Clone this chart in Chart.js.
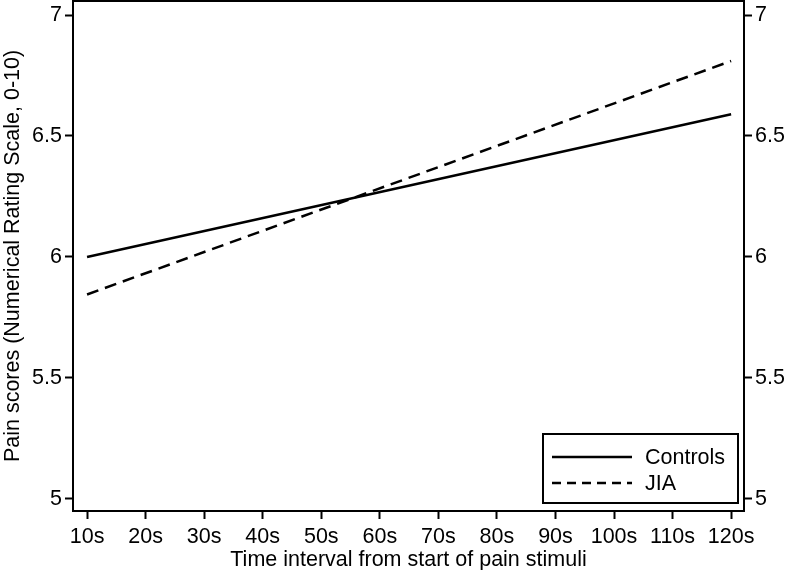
<!DOCTYPE html>
<html>
<head>
<meta charset="utf-8">
<script src="https://cdn.jsdelivr.net/npm/chart.js@4/dist/chart.umd.min.js"></script>
<style>
  body { margin: 0; background: #fff; }
  #wrap { width: 787px; height: 570px; }
</style>
</head>
<body>
<div id="wrap"><canvas id="chart"></canvas></div>
<script>
// time points (seconds) and fitted pain scores
const timePoints = [10, 120];
const controls = [6.0, 6.59];
const jia = [5.845, 6.81];
const xTicks = [10, 20, 30, 40, 50, 60, 70, 80, 90, 100, 110, 120];
const yTicks = [5, 5.5, 6, 6.5, 7];

const font = { family: "'Liberation Sans', Arial, Helvetica, sans-serif", size: 21.5 };

// full box around plot area
const frame = {
    id: 'frame',
    afterDraw(chart) {
        const { ctx, chartArea: a } = chart;
        ctx.save();
        ctx.strokeStyle = '#000';
        ctx.lineWidth = 2;
        ctx.strokeRect(a.left, a.top, a.right - a.left, a.bottom - a.top);
        ctx.restore();
    }
};

// legend box in lower right of plot
const boxLegend = {
    id: 'boxLegend',
    afterDraw(chart) {
        const { ctx } = chart;
        const x0 = 543, y0 = 434, w = 195, h = 69;
        ctx.save();
        ctx.fillStyle = '#fff';
        ctx.fillRect(x0, y0, w, h);
        ctx.strokeStyle = '#000';
        ctx.lineWidth = 2;
        ctx.strokeRect(x0, y0, w, h);
        chart.data.datasets.forEach((ds, i) => {
            const y = y0 + 23 + i * 26;
            ctx.beginPath();
            ctx.lineWidth = 2.5;
            ctx.setLineDash(ds.borderDash ? [9, 6] : []);
            ctx.moveTo(x0 + 9, y);
            ctx.lineTo(x0 + 89, y);
            ctx.stroke();
            ctx.setLineDash([]);
            ctx.fillStyle = '#000';
            ctx.font = `${font.size}px ${font.family}`;
            ctx.textBaseline = 'middle';
            ctx.fillText(ds.label, x0 + 102, y + 1);
        });
        ctx.restore();
    }
};

const fixTicks = vals => scale => { scale.ticks = vals.map(v => ({ value: v })); };

new Chart(document.getElementById('chart'), {
    type: 'line',
    data: {
        datasets: [
            {
                label: 'Controls',
                data: timePoints.map((t, i) => ({ x: t, y: controls[i] })),
                borderColor: '#000',
                borderWidth: 2.5,
                pointRadius: 0,
                yAxisID: 'y'
            },
            {
                label: 'JIA',
                data: timePoints.map((t, i) => ({ x: t, y: jia[i] })),
                borderColor: '#000',
                borderWidth: 2.5,
                borderDash: [12, 7],
                pointRadius: 0,
                yAxisID: 'y'
            }
        ]
    },
    options: {
        responsive: true,
        maintainAspectRatio: false,
        animation: false,
        layout: { padding: { top: 1 } },
        plugins: { legend: { display: false }, tooltip: { enabled: false } },
        scales: {
            x: {
                type: 'linear',
                min: 7.6,
                max: 122.2,
                afterBuildTicks: fixTicks(xTicks),
                afterFit(s) { s.height = 59; s.paddingLeft = 0; s.paddingRight = 0; },
                grid: { drawOnChartArea: false, tickLength: 8, tickWidth: 2, color: '#000' },
                border: { display: false },
                ticks: { color: '#000', font, padding: 5, maxRotation: 0, autoSkip: false,
                         callback: v => v + 's' },
                title: { display: true, text: 'Time interval from start of pain stimuli',
                         color: '#000', font, padding: { top: 0, bottom: -3 } }
            },
            y: {
                position: 'left',
                min: 4.95,
                max: 7.058,
                afterBuildTicks: fixTicks(yTicks),
                afterFit(s) { s.width = 73; s.paddingTop = 0; s.paddingBottom = 0; },
                grid: { drawOnChartArea: false, tickLength: 8, tickWidth: 2, color: '#000' },
                border: { display: false },
                ticks: { color: '#000', font, padding: 3, callback: v => String(v) },
                title: { display: true, text: 'Pain scores (Numerical Rating Scale, 0-10)',
                         color: '#000', font, padding: { top: 0, bottom: 0 } }
            },
            y2: {
                position: 'right',
                min: 4.95,
                max: 7.058,
                afterBuildTicks: fixTicks(yTicks),
                afterFit(s) { s.width = 43; s.paddingTop = 0; s.paddingBottom = 0; },
                grid: { drawOnChartArea: false, tickLength: 8, tickWidth: 2, color: '#000' },
                border: { display: false },
                ticks: { color: '#000', font, padding: 3, callback: v => String(v) }
            }
        }
    },
    plugins: [frame, boxLegend]
});
</script>
</body>
</html>
